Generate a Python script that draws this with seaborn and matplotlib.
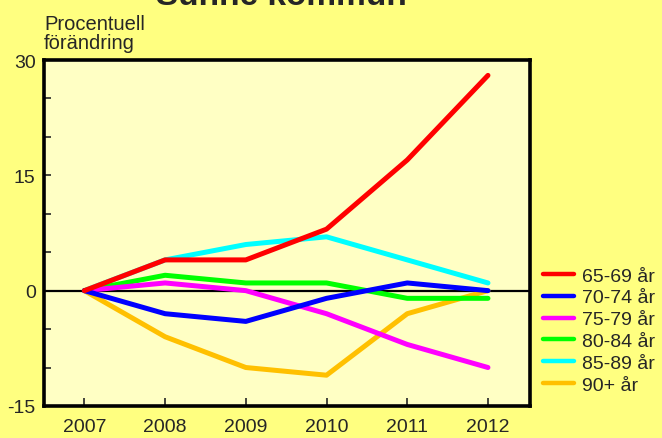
import matplotlib
matplotlib.use("Agg")
import matplotlib.pyplot as plt
from matplotlib.ticker import MultipleLocator
import seaborn as sns
import pandas as pd

YEARS = [2007, 2008, 2009, 2010, 2011, 2012]
GROUPS = ['65-69 år', '70-74 år', '75-79 år', '80-84 år', '85-89 år', '90+ år']
COLORS = ['#FF0000', '#0000FF', '#FF00FF', '#00FF00', '#00FFFF', '#FFC000']

G65 = [0, 4, 4, 8, 17, 28]
G70 = [0, -3, -4, -1, 1, 0]
G75 = [0, 1, 0, -3, -7, -10]
G80 = [0, 2, 1, 1, -1, -1]
G85 = [0, 4, 6, 7, 4, 1]
G90 = [0, -6, -10, -11, -3, 0]

def buildFrame():
  rows = []
  for grp, vals in zip(GROUPS, [G65, G70, G75, G80, G85, G90]):
    for y, v in zip(YEARS, vals):
      rows.append({'year': y, 'group': grp, 'change': v})
  return pd.DataFrame(rows)

sns.set_style('white')
plt.rcParams['font.family'] = ['Liberation Sans', 'DejaVu Sans']
plt.rcParams['axes.unicode_minus'] = False

fig = plt.figure(figsize=(6.62, 4.39), dpi=100, facecolor='#FFFF80')
ax = fig.add_axes([0.0665, 0.073, 0.734, 0.788])
ax.set_facecolor('#FFFFC4')

df = buildFrame()
ax.axhline(0, color='black', lw=1.6, zorder=1)
sns.lineplot(data=df, x='year', y='change', hue='group', hue_order=GROUPS,
             palette=dict(zip(GROUPS, COLORS)), lw=3.6, ax=ax, legend=False,
             zorder=2)
# red on top, the rest below in order
lines = ax.get_lines()[1:]
for i, ln in enumerate(lines):
  ln.set_zorder(10 - i)
  ln.set_solid_capstyle('round')
  ln.set_solid_joinstyle('round')

ax.set_xlim(2006.5, 2012.52)
ax.set_ylim(-15, 30)
ax.set_xticks(YEARS)
ax.set_yticks([-15, 0, 15, 30])
ax.yaxis.set_minor_locator(MultipleLocator(5))
ax.tick_params(axis='x', direction='in', length=6, width=1.2, pad=9, labelsize=14, bottom=True)
ax.tick_params(axis='y', which='both', direction='in', length=5, width=1.2, pad=6, labelsize=14, left=True)
ax.set_xlabel('')
ax.set_ylabel('')
for sp in ax.spines.values():
  sp.set_color('black')
  sp.set_linewidth(2.6)

fig.text(0.0665, 1 - 15 / 439, 'Procentuell\nförändring', fontsize=14.5, ha='left', va='top', linespacing=1.0)
fig.text(0.4245, 1 - 5 / 439, 'Sunne kommun', fontsize=24, fontweight='bold', ha='center', va='baseline')

handles = [plt.Line2D([], [], color=c, lw=3.2, solid_capstyle='round') for c in COLORS]
fig.legend(handles, GROUPS, loc='center left', bbox_to_anchor=(0.82, 0.245), frameon=False,
           fontsize=14, handlelength=1.6, handletextpad=0.4, labelspacing=0.22,
           borderpad=0, borderaxespad=0)

fig.savefig('out.png', dpi=100, facecolor=fig.get_facecolor())
